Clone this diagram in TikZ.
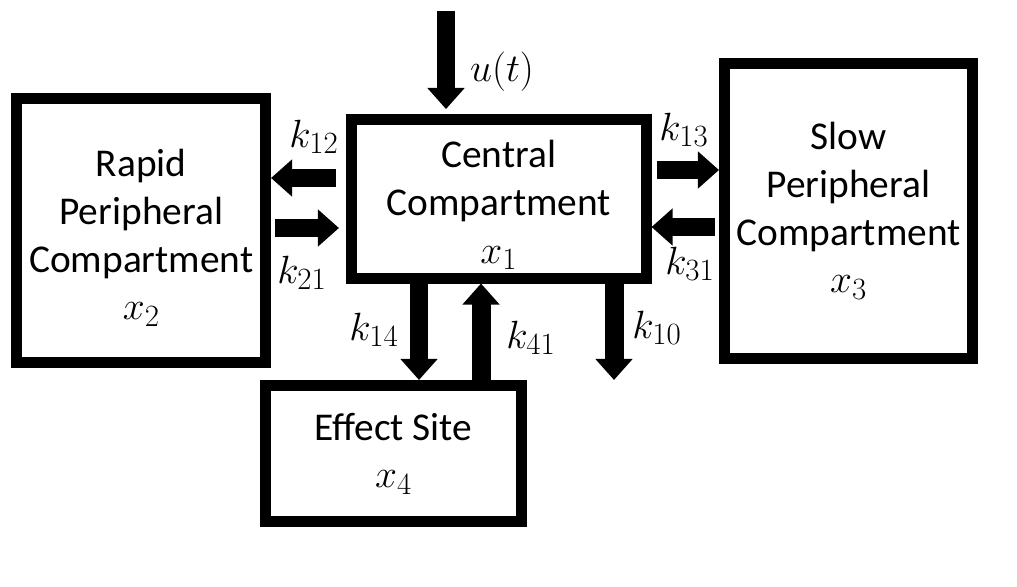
\RequirePackage{fix-cm}
\documentclass[tikz,border=0pt]{standalone}
\usepackage{fontspec}
\setmainfont{Carlito}
\DeclareMathSizes{28}{28}{22}{16}
\usetikzlibrary{arrows.meta}
\tikzstyle{comp}=[shape=rectangle, draw, line width=7.8pt, align=center, inner sep=0, font=\fontsize{28}{34}\selectfont]
\tikzstyle{flow}=[line width=13.5pt, -{Triangle[width=25.6pt, length=15pt]}]
\tikzstyle{rate}=[font=\fontsize{28}{34}\selectfont]

\begin{document}
\begin{tikzpicture}[x=0.025cm, y=-0.025cm]
\useasboundingbox (0,0) rectangle (1017,586);
\node at (141.25,230.25)[comp, minimum width=6.2125cm, minimum height=6.5875cm](rapid){\rule{0pt}{30pt}Rapid\\Peripheral\\Compartment\\$x_2$};
\node at (498.75,198.75)[comp, minimum width=7.3625cm, minimum height=3.9625cm](central){\rule{0pt}{28pt}Central\\Compartment\\$x_1$};
\node at (848.5,210.75)[comp, minimum width=6.2cm, minimum height=7.3625cm](slow){Slow\\Peripheral\\Compartment\\$x_3$};
\node at (393.5,453.5)[comp, minimum width=6.4cm, minimum height=3.4cm](effect){Effect Site\\$x_4$};
\coordinate (dose) at (446,11);
\coordinate (sink) at (614,380);
\draw[flow, shorten >=3.5pt] (dose) -- (central.north -| dose);
\draw[flow, shorten <=7pt] (central.west |- 0,178) -- (rapid.east |- 0,178);
\draw[flow, shorten >=5pt, shorten <=3pt] (rapid.east |- 0,228) -- (central.west |- 0,228);
\draw[flow, shorten <=4pt] (central.east |- 0,170) -- (slow.west |- 0,170);
\draw[flow, shorten <=3pt] (slow.west |- 0,227) -- (central.east |- 0,227);
\draw[flow] (central.south -| 419,0) -- (effect.north -| 419,0);
\draw[flow] (effect.north -| 481,0) -- (central.south -| 481,0);
\draw[flow] (central.south -| sink) -- (sink);
\node at (502,72)[rate](u){$u(t)$};
\node at (314,137)[rate](k12){$k_{12}$};
\node at (302,273)[rate](k21){$k_{21}$};
\node at (684,130)[rate](k13){$k_{13}$};
\node at (690,264)[rate](k31){$k_{31}$};
\node at (374,330)[rate](k14){$k_{14}$};
\node at (531,338)[rate](k41){$k_{41}$};
\node at (657,328)[rate](k10){$k_{10}$};
\end{tikzpicture}
\end{document}
